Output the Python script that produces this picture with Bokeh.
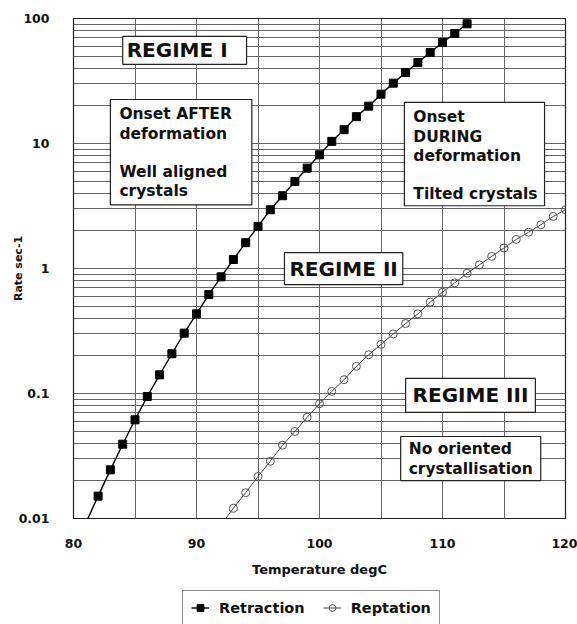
from bokeh.plotting import figure
from bokeh.layouts import column
from bokeh.models import FixedTicker, Label, Legend, LegendItem, Range1d
from bokeh.embed import file_html
from bokeh.resources import INLINE

# Crystallisation rate vs temperature for the two relaxation processes
temp_retraction = list(range(81, 113))
rate_retraction = [0.0092, 0.0151, 0.0245, 0.0393, 0.0616, 0.0946, 0.141, 0.208,
                   0.304, 0.434, 0.619, 0.858, 1.18, 1.61, 2.17, 2.95,
                   3.82, 4.97, 6.35, 8.12, 10.4, 12.9, 16.4, 19.9,
                   24.8, 30.4, 37.0, 44.5, 53.5, 64.3, 75.9, 90.7]

temp_reptation = list(range(92, 121))
rate_reptation = [0.0089, 0.0121, 0.0161, 0.0217, 0.0287, 0.0386, 0.0497, 0.0646,
                  0.0827, 0.104, 0.129, 0.165, 0.204, 0.247, 0.300, 0.363,
                  0.434, 0.538, 0.646, 0.768, 0.917, 1.07, 1.25, 1.46,
                  1.71, 1.95, 2.24, 2.61, 2.95]

x_ticks = [80, 90, 100, 110, 120]
x_minor = [85, 95, 105, 115]
y_ticks = [0.01, 0.1, 1, 10, 100]
y_tick_labels = ["0.01", "0.1", "1", "10", "100"]

FONT = "DejaVu Sans"
W = 577

p = figure(width=W, height=580,
           x_range=Range1d(80, 120), y_range=Range1d(0.01, 100),
           y_axis_type="log", output_backend="svg", toolbar_location=None,
           min_border_left=73, min_border_right=12,
           min_border_top=18, min_border_bottom=62)

p.background_fill_color = "white"
p.border_fill_color = "white"
p.outline_line_color = "#222222"
p.outline_line_width = 1.2

# axes
p.xaxis.ticker = FixedTicker(ticks=x_ticks, minor_ticks=x_minor)
y_minor = [m * 10.0 ** e for e in range(-2, 2) for m in range(2, 10)]
p.yaxis.ticker = FixedTicker(ticks=y_ticks, minor_ticks=y_minor)
p.yaxis.major_label_overrides = {t: s for t, s in zip(y_ticks, y_tick_labels)}

for ax in (p.xaxis, p.yaxis):
    ax.axis_line_color = None
    ax.major_tick_line_color = None
    ax.minor_tick_line_color = None
    ax.major_label_text_font = FONT
    ax.major_label_text_font_style = "bold"
    ax.major_label_text_font_size = "12.5px"
    ax.major_label_text_color = "#111111"
    ax.axis_label_text_font = FONT
    ax.axis_label_text_font_style = "bold"
    ax.axis_label_text_color = "#111111"

p.xaxis.axis_label = "Temperature degC"
p.xaxis.axis_label_text_font_size = "13px"
p.xaxis.major_label_standoff = 14
p.xaxis.axis_label_standoff = 11

# the y title sits tucked in beside the short tick labels
p.yaxis.axis_label = "Rate sec-1"
p.yaxis.axis_label_text_font_size = "11px"
p.yaxis.major_label_standoff = 18
p.yaxis.axis_label_standoff = -9

# grids
for g in (p.xgrid, p.ygrid):
    g.grid_line_color = "#666666"
    g.grid_line_width = 1
    g.minor_grid_line_color = "#666666"
    g.minor_grid_line_width = 1

# series
LINE_R = dict(line_color="black", line_width=1.4)
MARK_R = dict(marker="square", size=8, fill_color="black", line_color="black")
LINE_T = dict(line_color="#444444", line_width=1)
MARK_T = dict(marker="circle", size=8, fill_color=None, line_color="#555555", line_width=1)

p.line(temp_retraction, rate_retraction, **LINE_R)
p.scatter(temp_retraction, rate_retraction, **MARK_R)
p.line(temp_reptation, rate_reptation, **LINE_T)
p.scatter(temp_reptation, rate_reptation, **MARK_T)


def text_box(text, x, y, size, pad):
    p.add_layout(Label(x=x, y=y, text=text, text_align="left", text_baseline="top",
                       text_font=FONT, text_font_style="bold", text_font_size=size,
                       text_color="#111111", text_line_height=1.06,
                       background_fill_color="white", background_fill_alpha=1,
                       border_line_color="#222222", border_line_width=1.2,
                       padding=pad))


text_box("REGIME I", 84.0, 72, "20px", dict(left=4, right=19, top=2, bottom=2))
text_box("Onset AFTER\ndeformation\n\nWell aligned\ncrystals", 83.0, 22.5, "15.5px",
         dict(left=9, right=20, top=6, bottom=5))
text_box("Onset\nDURING\ndeformation\n\nTilted crystals", 106.9, 21.3, "15.5px",
         dict(left=9, right=7, top=6, bottom=3))
text_box("REGIME II", 97.15, 1.34, "20px", dict(left=5, right=5, top=4, bottom=4))
text_box("REGIME III", 107.0, 0.132, "20px", dict(left=7, right=7, top=5, bottom=5))
text_box("No oriented\ncrystallisation", 106.6, 0.0453, "15.5px",
         dict(left=8, right=8, top=4, bottom=3))

# legend strip under the chart: same series and styles, its ranges keep the
# glyphs themselves out of view so only the legend keys show
key = figure(width=W, height=44, x_range=Range1d(0, 1), y_range=Range1d(0, 1),
             x_axis_location=None, y_axis_location=None,
             output_backend="svg", toolbar_location=None,
             min_border_left=73, min_border_right=12, min_border_top=0,
             min_border_bottom=0)
key.grid.visible = False
key.outline_line_color = None
key.background_fill_color = "white"
key.border_fill_color = "white"

k_r_line = key.line(temp_retraction, rate_retraction, **LINE_R)
k_r_mark = key.scatter(temp_retraction, rate_retraction, **MARK_R)
k_t_line = key.line(temp_reptation, rate_reptation, **LINE_T)
k_t_mark = key.scatter(temp_reptation, rate_reptation, **MARK_T)

legend = Legend(items=[LegendItem(label="Retraction", renderers=[k_r_line, k_r_mark]),
                       LegendItem(label="Reptation", renderers=[k_t_line, k_t_mark])],
                location=(109, -1), orientation="horizontal",
                label_text_font=FONT, label_text_font_style="bold",
                label_text_font_size="14.5px", label_text_color="#111111",
                border_line_color="#222222", border_line_width=1.2,
                padding=8, spacing=18, glyph_width=18, glyph_height=17,
                label_standoff=10, background_fill_color="white",
                background_fill_alpha=1)
key.add_layout(legend)

open("out.html", "w").write(file_html(column(p, key, spacing=0), INLINE))
